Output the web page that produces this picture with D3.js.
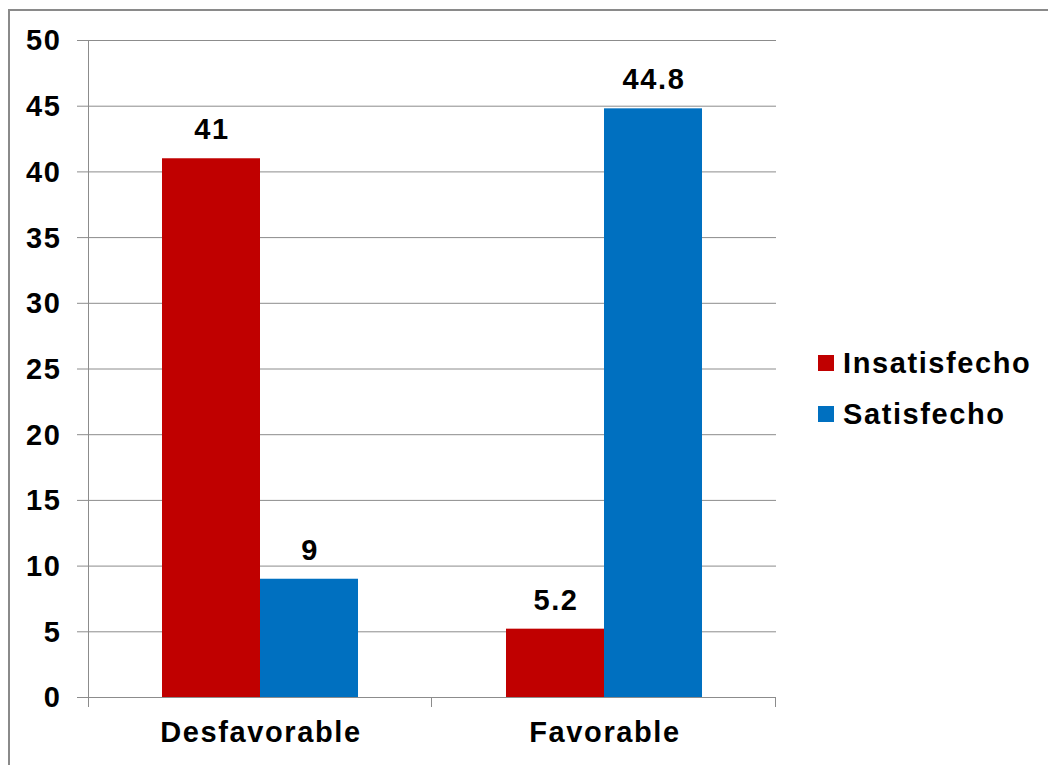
<!DOCTYPE html>
<html>
<head>
<meta charset="utf-8">
<script src="https://cdn.jsdelivr.net/npm/d3@7"></script>
<style>
  body { margin: 0; background: #fff; }
  text { font-family: "Liberation Sans", Arial, sans-serif; font-weight: bold; fill: #000; letter-spacing: 1.6px; }
</style>
</head>
<body>
<div id="chart-area"></div>
<script>
var categories = ["Desfavorable", "Favorable"];
var seriesNames = ["Insatisfecho", "Satisfecho"];
var insatisfecho = [41, 5.2];
var satisfecho = [9, 44.8];
var yTicks = [0, 5, 10, 15, 20, 25, 30, 35, 40, 45, 50];
var colors = ["#c00000", "#0070c0"];

var W = 1048, H = 765;
var margin = { top: 40, right: 272, bottom: 68, left: 88 },
    width = W - margin.left - margin.right,
    height = H - margin.top - margin.bottom;

var svg = d3.select("#chart-area")
    .append("svg")
    .attr("width", W)
    .attr("height", H);

// outer frame
svg.append("rect")
    .attr("x", 9)
    .attr("y", 10)
    .attr("width", W + 20)
    .attr("height", H + 20)
    .attr("fill", "none")
    .attr("stroke", "#8a8a8a")
    .attr("stroke-width", 2);

var g = svg.append("g")
    .attr("transform", "translate(" + margin.left + "," + margin.top + ")");

var data = categories.map((c, i) => ({
    category: c,
    values: [insatisfecho[i], satisfecho[i]]
}));

var x0 = d3.scaleBand()
    .domain(categories)
    .range([0, width]);

var x1 = d3.scaleBand()
    .domain(seriesNames)
    .range([0, x0.bandwidth()])
    .paddingOuter(0.755);

var y = d3.scaleLinear()
    .domain([0, 50])
    .range([height, 0]);

// gridlines + left ticks
g.append("g")
    .attr("class", "grid")
    .selectAll("line")
    .data(yTicks)
    .enter()
    .append("line")
    .attr("x1", -11)
    .attr("x2", width)
    .attr("y1", d => y(d) + 0.5)
    .attr("y2", d => y(d) + 0.5)
    .attr("stroke", "#8c8c8c")
    .attr("stroke-width", 1);

// y axis line
g.append("line")
    .attr("x1", 0.5).attr("x2", 0.5)
    .attr("y1", 0).attr("y2", height + 10)
    .attr("stroke", "#8c8c8c");

// category boundary ticks
g.append("g")
    .selectAll("line")
    .data(categories)
    .enter()
    .append("line")
    .attr("x1", d => x0(d) + x0.bandwidth() - 0.5)
    .attr("x2", d => x0(d) + x0.bandwidth() - 0.5)
    .attr("y1", height)
    .attr("y2", height + 10)
    .attr("stroke", "#8c8c8c");

// y tick labels
g.append("g")
    .selectAll("text")
    .data(yTicks)
    .enter()
    .append("text")
    .attr("x", -26.5)
    .attr("y", d => y(d))
    .attr("dy", "0.36em")
    .attr("text-anchor", "end")
    .style("font-size", "29px")
    .text(d => d);

// bars
var groups = g.selectAll(".cat")
    .data(data)
    .enter()
    .append("g")
    .attr("class", "cat")
    .attr("transform", d => "translate(" + x0(d.category) + ",0)");

groups.selectAll("rect")
    .data(d => d.values.map((v, i) => ({ name: seriesNames[i], value: v, idx: i })))
    .enter()
    .append("rect")
    .attr("x", d => x1(d.name))
    .attr("y", d => y(d.value))
    .attr("width", x1.bandwidth())
    .attr("height", d => height - y(d.value))
    .attr("fill", d => colors[d.idx]);

groups.selectAll(".val")
    .data(d => d.values.map((v, i) => ({ name: seriesNames[i], value: v })))
    .enter()
    .append("text")
    .attr("class", "val")
    .attr("x", d => x1(d.name) + x1.bandwidth() / 2 + 1)
    .attr("y", d => y(d.value) - 19)
    .attr("text-anchor", "middle")
    .style("font-size", "29px")
    .text(d => d.value);

// category labels
g.append("g")
    .selectAll("text")
    .data(categories)
    .enter()
    .append("text")
    .attr("x", d => x0(d) + x0.bandwidth() / 2 + 1)
    .attr("y", height + 45)
    .attr("text-anchor", "middle")
    .style("font-size", "29px")
    .text(d => d);

// legend
var legend = svg.append("g")
    .attr("transform", "translate(818,355)");

var items = legend.selectAll(".item")
    .data(seriesNames)
    .enter()
    .append("g")
    .attr("class", "item")
    .attr("transform", (d, i) => "translate(0," + i * 51 + ")");

items.append("rect")
    .attr("width", 16)
    .attr("height", 16)
    .attr("fill", (d, i) => colors[i]);

items.append("text")
    .attr("x", 25)
    .attr("y", 8)
    .attr("dy", "0.36em")
    .style("font-size", "29px")
    .text(d => d);
</script>
</body>
</html>
